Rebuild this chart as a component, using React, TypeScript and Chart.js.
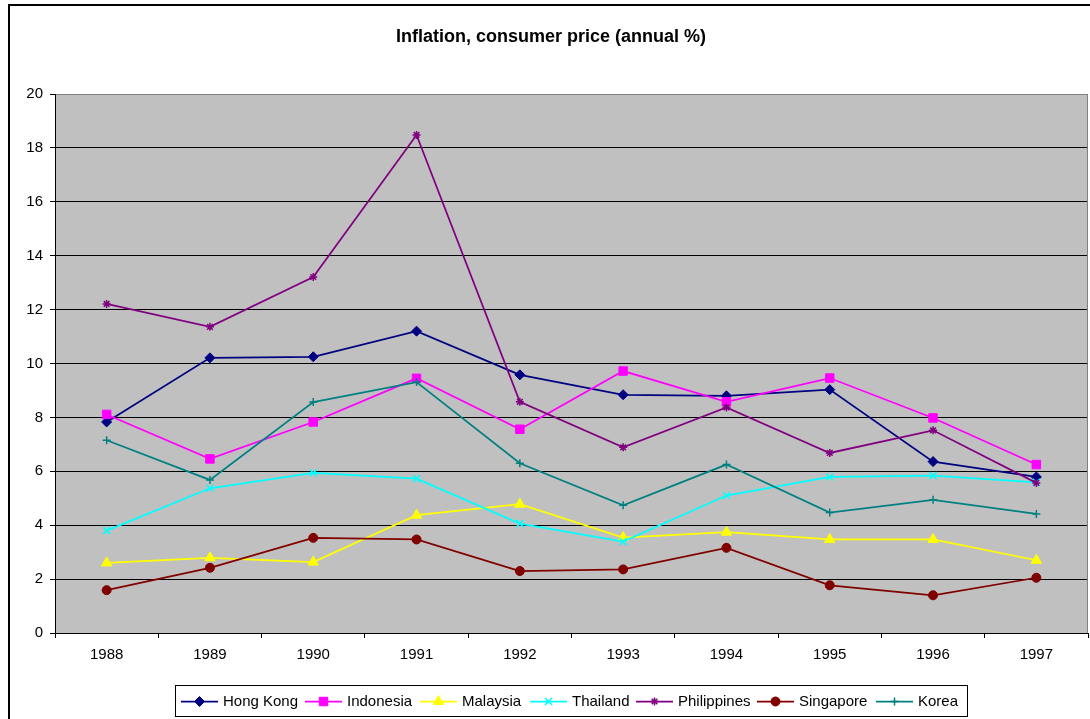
import React, { useEffect, useRef } from "react";
import { Chart, registerables, PointElement } from "chart.js";

Chart.register(...registerables);

const years = ["1988", "1989", "1990", "1991", "1992", "1993", "1994", "1995", "1996", "1997"];
const hongKong = [7.83, 10.21, 10.25, 11.2, 9.58, 8.84, 8.8, 9.03, 6.36, 5.79];
const indonesia = [8.11, 6.46, 7.83, 9.45, 7.56, 9.72, 8.58, 9.46, 7.98, 6.25];
const malaysia = [2.6, 2.79, 2.63, 4.37, 4.78, 3.54, 3.74, 3.47, 3.47, 2.7];
const thailand = [3.8, 5.37, 5.94, 5.73, 4.06, 3.39, 5.1, 5.79, 5.84, 5.59];
const philippines = [12.21, 11.36, 13.21, 18.48, 8.58, 6.89, 8.37, 6.68, 7.52, 5.57];
const singapore = [1.59, 2.42, 3.53, 3.47, 2.3, 2.36, 3.16, 1.77, 1.4, 2.05];
const korea = [7.15, 5.68, 8.57, 9.31, 6.3, 4.74, 6.25, 4.47, 4.94, 4.42];

const title = "Inflation, consumer price (annual %)";
const FONT = "'Liberation Sans', Arial, sans-serif";

type S = { label: string; data: number[]; color: string; style: string; radius: number; bw: number };
const series: S[] = [
  { label: "Hong Kong", data: hongKong, color: "#000080", style: "rectRot", radius: 5, bw: 1 },
  { label: "Indonesia", data: indonesia, color: "#FF00FF", style: "rect", radius: 6, bw: 1 },
  { label: "Malaysia", data: malaysia, color: "#FFFF00", style: "triangle", radius: 6, bw: 1 },
  { label: "Thailand", data: thailand, color: "#00FFFF", style: "crossRot", radius: 5, bw: 1.5 },
  { label: "Philippines", data: philippines, color: "#800080", style: "star", radius: 4, bw: 1.5 },
  { label: "Singapore", data: singapore, color: "#800000", style: "circle", radius: 4.5, bw: 1 },
  { label: "Korea", data: korea, color: "#008080", style: "cross", radius: 4, bw: 1.5 },
];

const LEGEND_X = [181, 305, 420, 530, 636, 757, 876];

const framePlugin = {
  id: "frame",
  beforeDraw(chart: any) {
    const { ctx, chartArea: a } = chart;
    ctx.save();
    ctx.fillStyle = "#FFFFFF";
    ctx.fillRect(0, 0, chart.width, chart.height);
    ctx.fillStyle = "#C0C0C0";
    ctx.fillRect(a.left, a.top, a.right - a.left, a.bottom - a.top);
    ctx.restore();
  },
  afterDraw(chart: any) {
    const { ctx, chartArea: a } = chart;
    ctx.save();
    ctx.strokeStyle = "#808080";
    ctx.lineWidth = 1;
    ctx.beginPath();
    ctx.moveTo(Math.round(a.right) - 0.5, a.top);
    ctx.lineTo(Math.round(a.right) - 0.5, a.bottom);
    ctx.stroke();
    ctx.strokeStyle = "#000";
    ctx.lineWidth = 2;
    ctx.strokeRect(9, 5, 1200, 1000);
    ctx.fillStyle = "#000";
    ctx.font = `bold 18px ${FONT}`;
    ctx.textAlign = "center";
    ctx.textBaseline = "middle";
    ctx.fillText(title, 551, 37);
    ctx.lineWidth = 1;
    ctx.strokeStyle = "#000";
    ctx.strokeRect(175.5, 685.5, 792, 31);
    ctx.font = `15px ${FONT}`;
    ctx.textAlign = "left";
    const cy = 701.5;
    series.forEach((s, i) => {
      const x0 = LEGEND_X[i];
      ctx.strokeStyle = s.color;
      ctx.lineWidth = 1.75;
      ctx.beginPath();
      ctx.moveTo(x0, cy);
      ctx.lineTo(x0 + 37, cy);
      ctx.stroke();
      const p: any = new PointElement({
        x: x0 + 18.5,
        y: cy,
        options: {
          pointStyle: s.style,
          radius: s.radius,
          rotation: 0,
          borderWidth: s.bw,
          backgroundColor: s.color,
          borderColor: s.color,
        },
      } as any);
      p.draw(ctx);
      ctx.fillStyle = "#000";
      ctx.fillText(s.label, x0 + 42, cy);
    });
    ctx.restore();
  },
};

export default function App() {
  const ref = useRef<HTMLCanvasElement>(null);
  useEffect(() => {
    if (!ref.current) return;
    const chart = new Chart(ref.current, {
      type: "line",
      data: {
        labels: years,
        datasets: series.map((s, i) => ({
          label: s.label,
          data: s.data,
          borderColor: s.color,
          backgroundColor: s.color,
          borderWidth: 1.75,
          pointStyle: s.style as any,
          pointRadius: s.radius,
          pointBorderWidth: s.bw,
          pointBackgroundColor: s.color,
          pointBorderColor: s.color,
          tension: 0,
          fill: false,
          order: series.length - i,
        })),
      },
      options: {
        animation: false,
        responsive: false,
        devicePixelRatio: 1,
        layout: { autoPadding: false, padding: { left: 0, top: 94, right: 2, bottom: 46 } },
        plugins: { legend: { display: false }, title: { display: false }, tooltip: { enabled: false } },
        scales: {
          x: {
            type: "category",
            offset: true,
            afterFit: (scale: any) => {
              scale.height = 40;
              scale.paddingLeft = 0;
              scale.paddingRight = 0;
            },
            grid: {
              offset: true,
              drawOnChartArea: false,
              drawTicks: true,
              tickLength: 5,
              color: "#000",
              lineWidth: 1,
            },
            border: { color: "#000", width: 1 },
            ticks: {
              color: "#000",
              font: { family: FONT, size: 15 },
              padding: 8,
              maxRotation: 0,
              autoSkip: false,
            },
          },
          y: {
            min: 0,
            max: 20,
            afterFit: (scale: any) => {
              scale.width = 55;
              scale.paddingTop = 0;
              scale.paddingBottom = 0;
            },
            grid: {
              color: (c: any) => (c.tick && c.tick.value === 20 ? "#808080" : "#000"),
              tickColor: "#000",
              lineWidth: 1,
              drawTicks: true,
              tickLength: 5,
            },
            border: { color: "#000", width: 1 },
            ticks: {
              stepSize: 2,
              color: "#000",
              font: { family: FONT, size: 15 },
              padding: 7,
            },
          },
        },
      },
      plugins: [framePlugin],
    });
    return () => chart.destroy();
  }, []);
  return (
    <div style={{ position: "fixed", left: 0, top: 0, width: 1090, height: 719 }}>
      <canvas ref={ref} width={1090} height={719} style={{ display: "block" }} />
    </div>
  );
}
